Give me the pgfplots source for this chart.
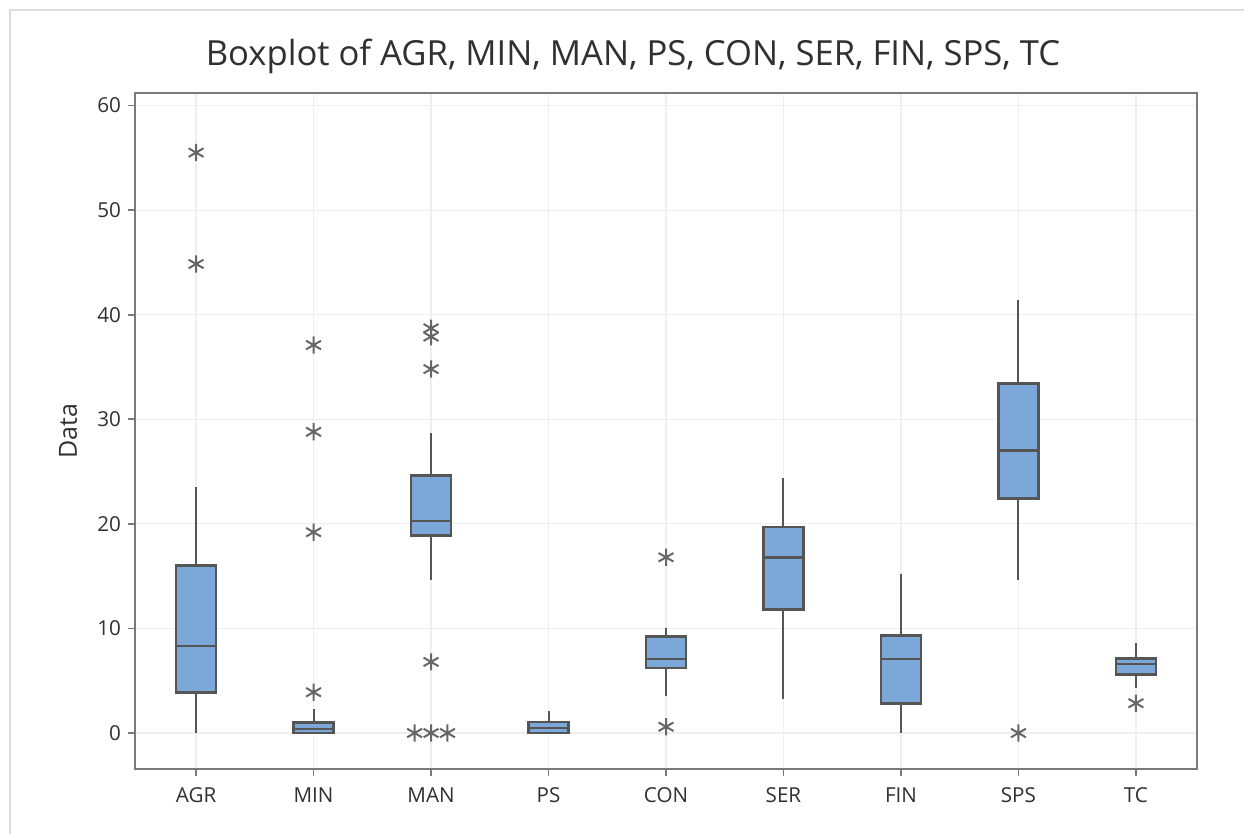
\documentclass[border=0pt]{standalone}
\usepackage{pgfplots}
\pgfplotsset{compat=1.18}
\usepgfplotslibrary{statistics}
\usepackage{fontspec}
\setmainfont{Open Sans}
\definecolor{boxfill}{HTML}{7BA7D9}
\definecolor{boxdraw}{HTML}{555555}
\definecolor{axisgray}{HTML}{7A7A7A}
\definecolor{gridgray}{HTML}{EFEFEF}
\definecolor{txt}{HTML}{303030}
\definecolor{outl}{HTML}{666666}
\definecolor{frame}{HTML}{DDDDDD}
\begin{document}
\begin{tikzpicture}
\useasboundingbox (0,0) rectangle (622pt,417pt);
\fill[white] (0,0) rectangle (622pt,417pt);
\draw[frame, line width=0.9pt] (5pt,0) -- (5pt,412pt) -- (622pt,412pt);
\node[txt, font=\fontsize{17.3}{20}\selectfont] at (316.5pt,389pt) {Boxplot of AGR, MIN, MAN, PS, CON, SER, FIN, SPS, TC};
\begin{axis}[
  at={(67.5pt,32.5pt)}, anchor=south west,
  width=531pt, height=338pt, scale only axis,
  xmin=-0.52, xmax=8.52, ymin=-3.44, ymax=61.2,
  xtick={0,...,8},
  xticklabels={AGR,MIN,MAN,PS,CON,SER,FIN,SPS,TC},
  ytick={0,10,...,60},
  xtick pos=bottom, ytick pos=left,
  tick align=outside, major tick length=3.5pt,
  tick style={axisgray, line width=0.9pt},
  axis line style={axisgray, line width=1.1pt},
  grid=major, grid style={gridgray, line width=0.6pt},
  ticklabel style={txt, font=\fontsize{10.3}{12}\selectfont},
  xticklabel style={yshift=-2.5pt},
  /pgf/number format/assume math mode=true,
  ylabel={Data},
  every axis y label/.style={at={(axis description cs:-0.063,0.5)}, rotate=90, anchor=center, txt, font=\fontsize{12.5}{15}\selectfont},
  boxplot/draw direction=y,
  boxplot/box extend=0.34,
  boxplot/whisker extend=0,
  boxplot/every box/.style={fill=boxfill, draw=boxdraw, line width=1.3pt},
  boxplot/every whisker/.style={draw=boxdraw, line width=1pt},
  boxplot/every median/.style={draw=boxdraw, line width=1.2pt},
]
\addplot[boxplot prepared={draw position=0, lower whisker=0, lower quartile=3.9, median=8.3, upper quartile=16.0, upper whisker=23.5}] coordinates {};
\addplot[boxplot prepared={draw position=1, lower whisker=0, lower quartile=0, median=0.4, upper quartile=1.0, upper whisker=2.3}] coordinates {};
\addplot[boxplot prepared={draw position=2, lower whisker=14.6, lower quartile=18.9, median=20.3, upper quartile=24.6, upper whisker=28.7}] coordinates {};
\addplot[boxplot prepared={draw position=3, lower whisker=0, lower quartile=0, median=0.5, upper quartile=1.05, upper whisker=2.1}] coordinates {};
\addplot[boxplot prepared={draw position=4, lower whisker=3.5, lower quartile=6.2, median=7.05, upper quartile=9.2, upper whisker=10.0}] coordinates {};
\addplot[boxplot prepared={draw position=5, lower whisker=3.25, lower quartile=11.8, median=16.8, upper quartile=19.7, upper whisker=24.4}] coordinates {};
\addplot[boxplot prepared={draw position=6, lower whisker=0, lower quartile=2.85, median=7.05, upper quartile=9.3, upper whisker=15.2}] coordinates {};
\addplot[boxplot prepared={draw position=7, lower whisker=14.6, lower quartile=22.4, median=27.0, upper quartile=33.4, upper whisker=41.4}] coordinates {};
\addplot[boxplot prepared={draw position=8, lower whisker=4.3, lower quartile=5.6, median=6.6, upper quartile=7.1, upper whisker=8.6}] coordinates {};
\addplot[only marks, mark=asterisk, mark size=4.3pt, mark options={outl, line width=1pt}] coordinates {
 (0,55.5) (0,44.85)
 (1,37.1) (1,28.8) (1,19.2) (1,3.9)
 (2,38.7) (2,37.9) (2,34.8) (2,6.8) (1.86,0) (2,0) (2.14,0)
 (4,16.8) (4,0.6)
 (7,0)
 (8,2.85)
};
\end{axis}
\end{tikzpicture}
\end{document}
